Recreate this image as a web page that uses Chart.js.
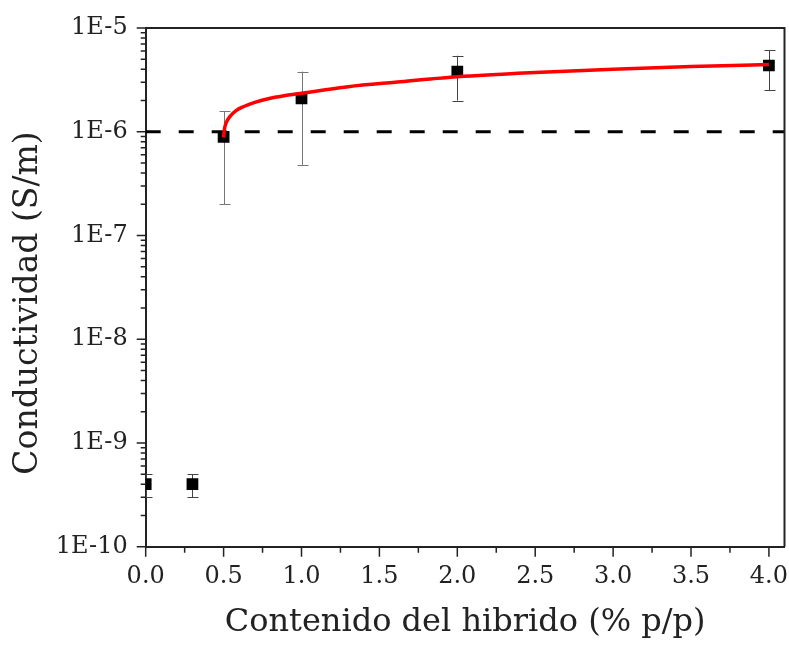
<!DOCTYPE html>
<html>
<head>
<meta charset="utf-8">
<script src="https://cdn.jsdelivr.net/npm/chart.js@4.4.0/dist/chart.umd.min.js"></script>
<style>
html, body { margin: 0; padding: 0; background: #fff; }
#wrap { width: 789px; height: 645px; }
</style>
</head>
<body>
<div id="wrap"><canvas id="grafico"></canvas></div>
<script>
// datos medidos
const contenido = [0, 0.3, 0.5, 1.0, 2.0, 4.0];
const conductividad = [4e-10, 4e-10, 8.9e-7, 2.1e-6, 3.8e-6, 4.35e-6];
const errInf = [3e-10, 3e-10, 2.0e-7, 4.8e-7, 2.0e-6, 2.5e-6];
const errSup = [5e-10, 5e-10, 1.57e-6, 3.8e-6, 5.4e-6, 6.1e-6];

// curva de ajuste
const ajusteX = [0.5, 0.505, 0.52, 0.54, 0.58, 0.63, 0.7, 0.8, 1.0, 1.3, 1.6, 2.0, 2.5, 3.0, 3.5, 4.0];
const ajusteY = [8.8e-7, 1.05e-6, 1.25e-6, 1.4e-6, 1.6e-6, 1.75e-6, 1.92e-6, 2.1e-6, 2.35e-6, 2.72e-6, 3.0e-6, 3.38e-6, 3.72e-6, 4.0e-6, 4.25e-6, 4.45e-6];

// umbral de percolacion
const umbralX = [0, 4.1];
const umbralY = [1e-6, 1e-6];

// ticks
const xTicks = [0, 0.25, 0.5, 0.75, 1.0, 1.25, 1.5, 1.75, 2.0, 2.25, 2.5, 2.75, 3.0, 3.25, 3.5, 3.75, 4.0];
const yExp = [-10, -9, -8, -7, -6, -5];
const yMinor = [2, 3, 4, 5, 6, 7, 8, 9];

const fuente = '"DejaVu Serif", serif';
const tinta = '#222';

const puntos = contenido.map((x, i) => ({ x: x, y: conductividad[i] }));
const ajuste = ajusteX.map((x, i) => ({ x: x, y: ajusteY[i] }));
const umbral = umbralX.map((x, i) => ({ x: x, y: umbralY[i] }));

const barrasError = {
	id: 'barrasError',
	beforeDatasetsDraw(chart) {
		const { ctx, chartArea, scales } = chart;
		ctx.save();
		ctx.beginPath();
		ctx.rect(chartArea.left, chartArea.top, chartArea.right - chartArea.left, chartArea.bottom - chartArea.top);
		ctx.clip();
		ctx.lineWidth = 1;
		contenido.forEach((x, i) => {
			const px = Math.round(scales.x.getPixelForValue(x)) + 0.5;
			const y1 = scales.y.getPixelForValue(errInf[i]);
			const y2 = scales.y.getPixelForValue(errSup[i]);
			ctx.strokeStyle = (x === 0.5 || x === 1.0) ? '#777' : '#444';
			ctx.beginPath();
			ctx.moveTo(px, y1);
			ctx.lineTo(px, y2);
			ctx.moveTo(px - 5, Math.round(y1) + 0.5);
			ctx.lineTo(px + 6, Math.round(y1) + 0.5);
			ctx.moveTo(px - 5, Math.round(y2) + 0.5);
			ctx.lineTo(px + 6, Math.round(y2) + 0.5);
			ctx.stroke();
		});
		ctx.restore();
	},
	afterDraw(chart) {
		const { ctx, chartArea, scales } = chart;
		ctx.save();
		ctx.strokeStyle = tinta;
		ctx.lineWidth = 2;
		// marco superior y derecho
		ctx.beginPath();
		ctx.moveTo(chartArea.left, chartArea.top);
		ctx.lineTo(chartArea.right, chartArea.top);
		ctx.lineTo(chartArea.right, chartArea.bottom);
		ctx.stroke();
		// marcas de los ejes
		ctx.lineWidth = 1.5;
		ctx.beginPath();
		scales.x.ticks.forEach(t => {
			const px = scales.x.getPixelForValue(t.value);
			const len = t.major ? 10 : 6;
			ctx.moveTo(px, chartArea.bottom);
			ctx.lineTo(px, chartArea.bottom + len);
		});
		scales.y.ticks.forEach(t => {
			const py = scales.y.getPixelForValue(t.value);
			const len = t.major ? 9 : 5;
			ctx.moveTo(chartArea.left, py);
			ctx.lineTo(chartArea.left - len, py);
		});
		ctx.stroke();
		// titulo del eje y
		ctx.translate(37, 303);
		ctx.rotate(-Math.PI / 2);
		ctx.font = '33px ' + fuente;
		ctx.fillStyle = tinta;
		ctx.textAlign = 'center';
		ctx.textBaseline = 'alphabetic';
		ctx.fillText('Conductividad (S/m)', 0, 0);
		ctx.restore();
	}
};

const config = {
	type: 'scatter',
	data: {
		datasets: [
			{
				data: ajuste,
				showLine: true,
				borderColor: 'rgb(255, 0, 0)',
				borderWidth: 3.5,
				pointRadius: 0,
				cubicInterpolationMode: 'monotone',
				order: 1
			},
			{
				data: puntos,
				pointStyle: 'rect',
				pointRadius: 8.3,
				backgroundColor: '#000',
				borderColor: '#000',
				borderWidth: 0,
				order: 2
			},
			{
				data: umbral,
				showLine: true,
				borderColor: '#000',
				borderWidth: 3,
				borderDash: [15, 18],
				pointRadius: 0,
				order: 3
			}
		]
	},
	options: {
		responsive: true,
		maintainAspectRatio: false,
		animation: false,
		events: [],
		layout: {
			autoPadding: false,
			padding: { top: 28, right: 4.5, left: 0, bottom: 0 }
		},
		plugins: {
			legend: { display: false },
			tooltip: { enabled: false }
		},
		scales: {
			x: {
				type: 'linear',
				min: 0,
				max: 4.1,
				afterBuildTicks(scale) {
					scale.ticks = xTicks.map((v, i) => ({ value: v, major: i % 2 === 0 }));
				},
				afterFit(scale) {
					scale.height = 98.3;
					scale.paddingLeft = 0;
					scale.paddingRight = 0;
				},
				grid: { display: true, drawOnChartArea: false, drawTicks: false },
				border: { display: true, color: tinta, width: 2 },
				ticks: {
					autoSkip: false,
					maxRotation: 0,
					padding: 16,
					color: tinta,
					font: { family: fuente, size: 24 },
					callback(value, index) {
						return index % 2 === 0 ? value.toFixed(1) : '';
					}
				},
				title: {
					display: true,
					text: 'Contenido del hibrido (% p/p)',
					color: tinta,
					font: { family: fuente, size: 32 },
					padding: { top: 0, bottom: 3 }
				}
			},
			y: {
				type: 'logarithmic',
				min: 1e-10,
				max: 1e-5,
				afterBuildTicks(scale) {
					const ticks = [];
					yExp.forEach((e, i) => {
						ticks.push({ value: Math.pow(10, e), major: true });
						if (i < yExp.length - 1) {
							yMinor.forEach(m => ticks.push({ value: m * Math.pow(10, e), major: false }));
						}
					});
					scale.ticks = ticks;
				},
				afterFit(scale) {
					scale.width = 145.7;
					scale.paddingTop = 0;
					scale.paddingBottom = 0;
				},
				grid: { display: true, drawOnChartArea: false, drawTicks: false },
				border: { display: true, color: tinta, width: 2 },
				ticks: {
					autoSkip: false,
					padding: 18,
					color: tinta,
					font: { family: fuente, size: 24 },
					callback(value, index, ticks) {
						if (!ticks[index].major) return '';
						return '1E' + Math.round(Math.log10(value));
					}
				}
			}
		}
	},
	plugins: [barrasError]
};

const grafico = new Chart(document.getElementById('grafico'), config);
</script>
</body>
</html>
